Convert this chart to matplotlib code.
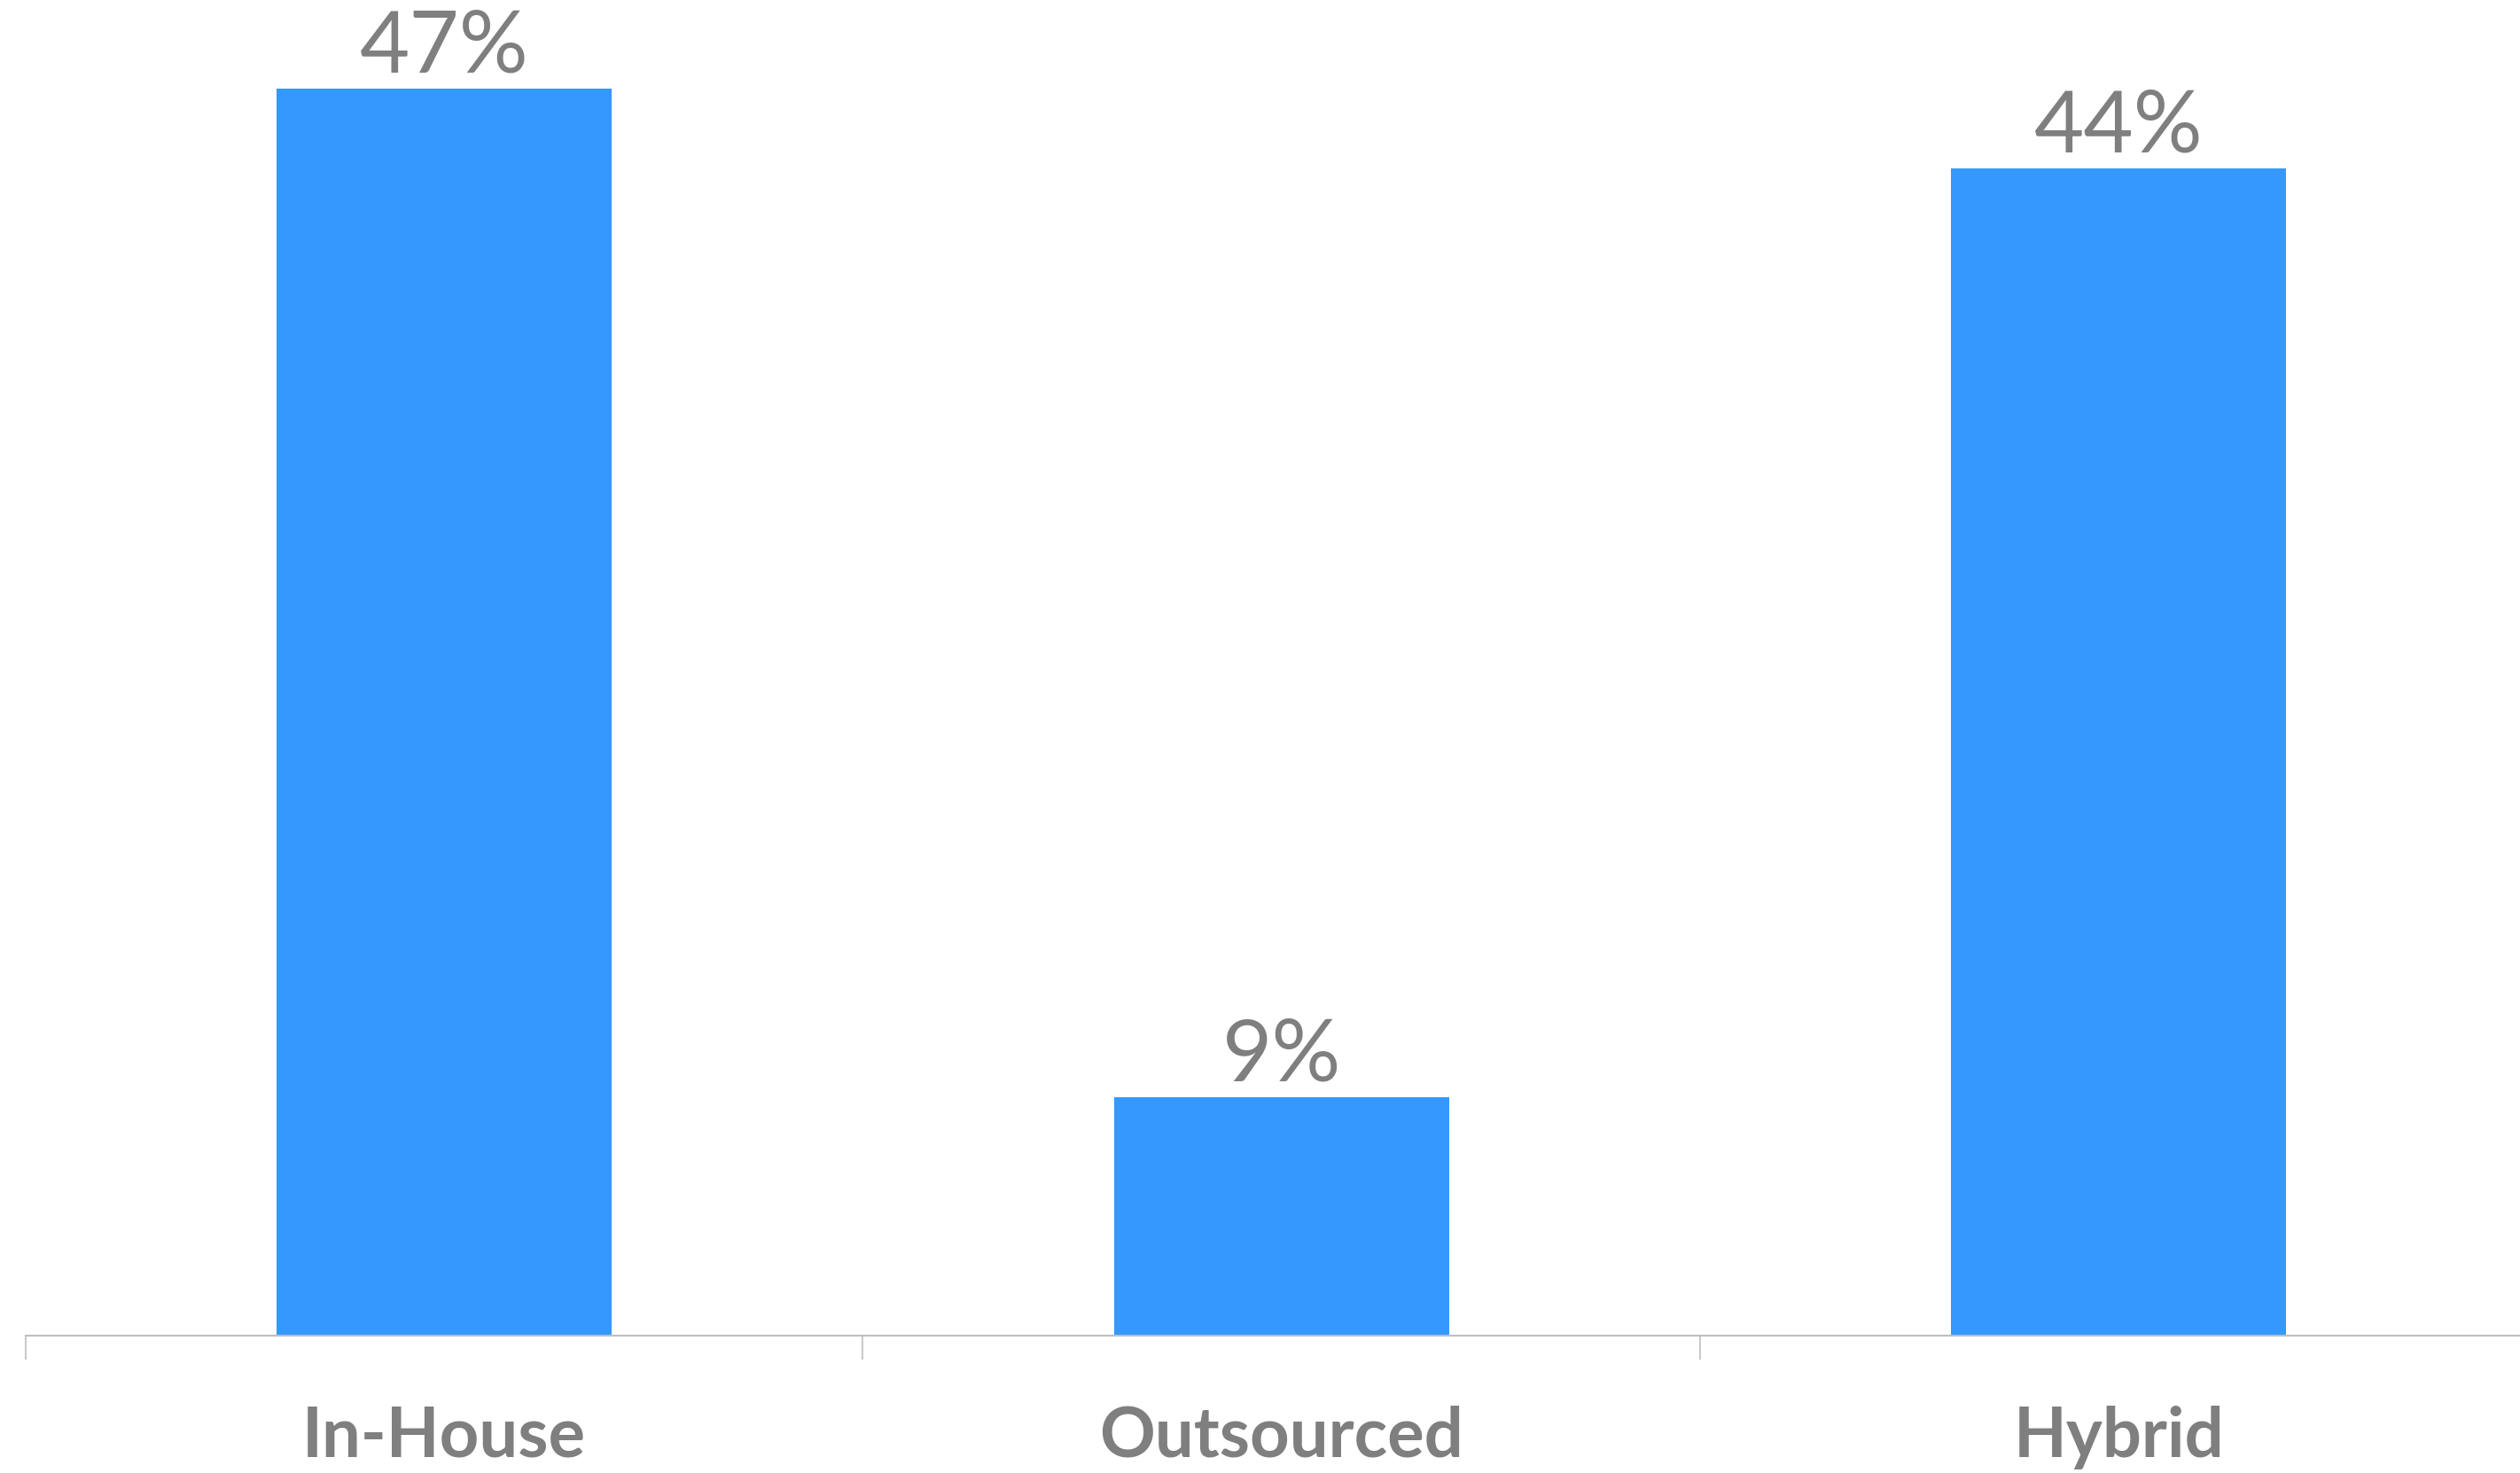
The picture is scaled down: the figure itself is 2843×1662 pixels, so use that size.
import numpy as np
import matplotlib.pyplot as plt

# survey split of delivery model
categories = ["In-House", "Outsourced", "Hybrid"]
shares = [47, 9, 44]
value_labels = ["47%", "9%", "44%"]

bar_color = "#3399FF"
text_gray = "#7F7F7F"
axis_gray = "#BFBFBF"

plt.rcParams['font.family'] = ['Lato', 'DejaVu Sans']

fig = plt.figure(figsize=(28.43, 16.62), dpi=100)
# axes spans from x=28px to the figure's right edge, bottom line at y=1507px
ax = fig.add_axes([28.5 / 2843, 155 / 1662, 2814.5 / 2843, 1507 / 1662])

x = np.arange(len(categories))
bars = ax.bar(x, shares, width=0.4, color=bar_color, zorder=2)

ax.set_xlim(-0.5, 2.479)
ax.set_ylim(0, 50.33)

# value labels above each bar
for rect, lab in zip(bars, value_labels):
    ax.annotate(lab, (rect.get_x() + rect.get_width() / 2, rect.get_height()),
                xytext=(0, 1), textcoords="offset points",
                ha="center", va="bottom", fontsize=70, color=text_gray)

# category boundaries get the tick marks, names sit between them
ax.set_xticks([-0.5, 0.5, 1.5])
ax.set_xticklabels([])
ax.tick_params(axis="x", direction="out", length=19.5, width=1.2, color=axis_gray)
for xi, name in zip(x, categories):
    ax.text(xi, -0.076, name, transform=ax.get_xaxis_transform(),
            ha="center", va="center", fontsize=56, fontweight="bold", color=text_gray)

ax.set_yticks([])
for side in ["top", "right", "left"]:
    ax.spines[side].set_visible(False)
ax.spines["bottom"].set_color(axis_gray)
ax.spines["bottom"].set_linewidth(1.5)

fig.savefig("out.png", dpi=100)
